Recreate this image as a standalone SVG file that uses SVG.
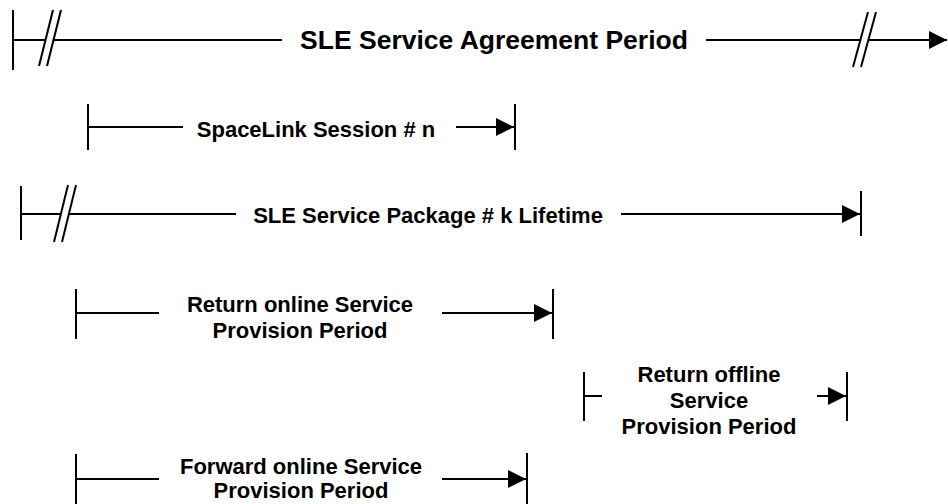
<svg xmlns="http://www.w3.org/2000/svg" width="948" height="504" viewBox="0 0 948 504">
<defs>
<style>
.ln{stroke:#000;stroke-width:2;fill:none}
.t{font-family:"Liberation Sans",Arial,sans-serif;font-weight:bold;fill:#000;text-anchor:middle}
.t1{font-size:26.5px}
.t2{font-size:22px}
</style>
<marker id="ah" markerUnits="userSpaceOnUse" markerWidth="18" markerHeight="18" refX="18" refY="9" orient="auto">
<path d="M0,0 L18,9 L0,18 Z" fill="#000"/>
</marker>
</defs>
<rect width="948" height="504" fill="#fff"/>

<g id="agreement">
<line class="ln" x1="13" y1="10" x2="13" y2="70"/>
<line class="ln" x1="39" y1="66" x2="53" y2="10"/>
<line class="ln" x1="47" y1="66" x2="61" y2="10"/>
<line class="ln" x1="853" y1="67" x2="868" y2="12"/>
<line class="ln" x1="861" y1="67" x2="876" y2="12"/>
<text class="t t1" x="494" y="49">SLE Service Agreement Period</text>
</g>

<g id="session">
<line class="ln" x1="88" y1="104" x2="88" y2="150"/>
<line class="ln" x1="515" y1="104" x2="515" y2="150"/>
<text class="t t2" x="316" y="137">SpaceLink Session # n</text>
</g>

<g id="package">
<line class="ln" x1="21" y1="186" x2="21" y2="240"/>
<line class="ln" x1="54" y1="242" x2="68" y2="185"/>
<line class="ln" x1="62" y1="242" x2="76" y2="185"/>
<line class="ln" x1="861" y1="191" x2="861" y2="236"/>
<text class="t t2" x="428" y="223">SLE Service Package # k Lifetime</text>
</g>

<g id="return-online">
<line class="ln" x1="76" y1="289" x2="76" y2="339"/>
<line class="ln" x1="553" y1="289" x2="553" y2="339"/>
<text class="t t2" x="300" y="312">Return online Service</text>
<text class="t t2" x="300" y="338">Provision Period</text>
</g>

<g id="return-offline">
<line class="ln" x1="584" y1="372" x2="584" y2="421"/>
<line class="ln" x1="847" y1="372" x2="847" y2="421"/>
<text class="t t2" x="709" y="382">Return offline</text>
<text class="t t2" x="709" y="408">Service</text>
<text class="t t2" x="709" y="434">Provision Period</text>
</g>

<g id="forward-online">
<line class="ln" x1="76" y1="454" x2="76" y2="504"/>
<line class="ln" x1="527" y1="453" x2="527" y2="504"/>
<text class="t t2" x="301" y="474">Forward online Service</text>
<text class="t t2" x="301" y="498">Provision Period</text>
</g>

<g id="connectors">
<line class="ln" x1="13" y1="40" x2="45" y2="40"/>
<line class="ln" x1="54" y1="40" x2="282" y2="40"/>
<line class="ln" x1="706" y1="40" x2="860" y2="40"/>
<line class="ln" x1="868" y1="40" x2="947" y2="40" marker-end="url(#ah)"/>
<line class="ln" x1="88" y1="127" x2="183" y2="127"/>
<line class="ln" x1="456" y1="127" x2="514" y2="127" marker-end="url(#ah)"/>
<line class="ln" x1="21" y1="214" x2="61" y2="214"/>
<line class="ln" x1="69" y1="214" x2="236" y2="214"/>
<line class="ln" x1="621" y1="214" x2="860" y2="214" marker-end="url(#ah)"/>
<line class="ln" x1="76" y1="313" x2="159" y2="313"/>
<line class="ln" x1="442" y1="313" x2="552" y2="313" marker-end="url(#ah)"/>
<line class="ln" x1="584" y1="396" x2="602" y2="396"/>
<line class="ln" x1="817" y1="396" x2="846" y2="396" marker-end="url(#ah)"/>
<line class="ln" x1="76" y1="479" x2="159" y2="479"/>
<line class="ln" x1="442" y1="479" x2="526" y2="479" marker-end="url(#ah)"/>
</g>
</svg>
